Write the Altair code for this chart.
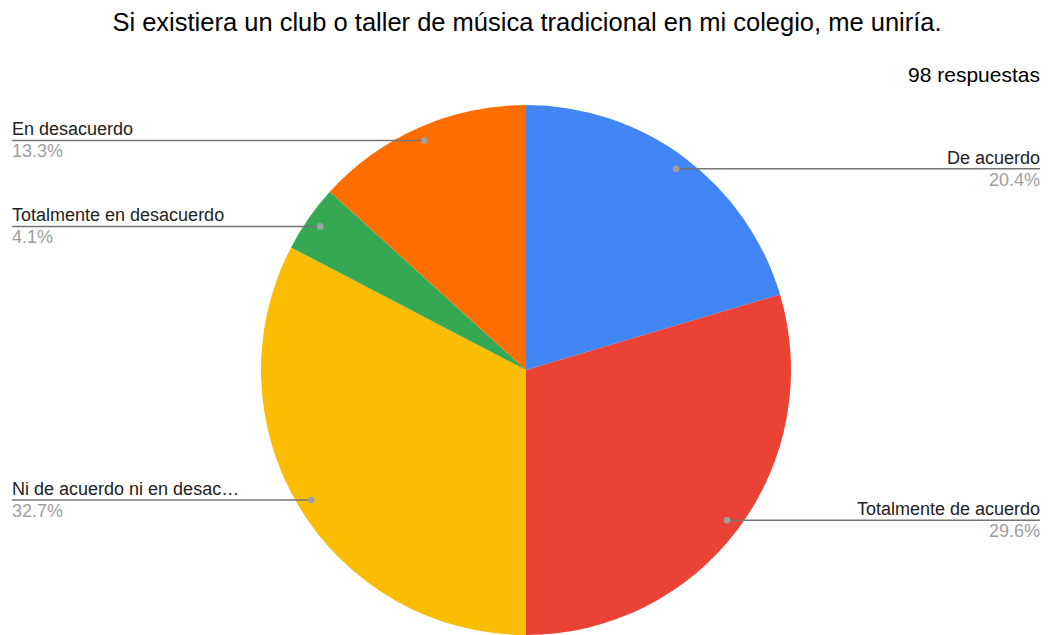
import altair as alt
import pandas as pd

title_text = "Si existiera un club o taller de música tradicional en mi colegio, me uniría."
subtitle_text = "98 respuestas"
categories = ["De acuerdo", "Totalmente de acuerdo", "Ni de acuerdo ni en desacuerdo",
              "Totalmente en desacuerdo", "En desacuerdo"]
counts = [20, 29, 32, 4, 13]
percent_labels = ["20.4%", "29.6%", "32.7%", "4.1%", "13.3%"]
colors = ["#4285F4", "#EA4335", "#FBBC04", "#34A853", "#FF6D01"]

df = pd.DataFrame({"cat": categories, "n": counts, "pct": percent_labels,
                   "idx": list(range(len(categories)))})

W, H = 1032, 627
CX, CY, R, RL = 518, 362, 265, 251
LEFT, RIGHT = 4, 1032
FONT = "Liberation Sans"
FS = 18

base = alt.Chart(df)

pie = base.mark_arc(radius=R).encode(
    theta=alt.Theta("n:Q", stack=True),
    color=alt.Color("cat:N", scale=alt.Scale(domain=categories, range=colors), legend=None),
    order=alt.Order("idx:Q"),
    x=alt.value(CX),
    y=alt.value(CY),
)

lab = (
    base.transform_window(cum="sum(n)", sort=[alt.SortField("idx")], frame=[None, 0])
    .transform_joinaggregate(total="sum(n)")
    .transform_calculate(mid="2*PI*(datum.cum - datum.n/2)/datum.total")
    .transform_calculate(
        px=f"{CX}+{RL}*sin(datum.mid)",
        py=f"{CY}-{RL}*cos(datum.mid)",
        right="datum.mid < PI ? 1 : 0",
    )
    .transform_calculate(ex=f"datum.right == 1 ? {RIGHT} : {LEFT}")
)

X = alt.X("px:Q", scale=None)
Y = alt.Y("py:Q", scale=None)

lines = lab.mark_rule(color="#757575", strokeWidth=1.5).encode(x=X, x2=alt.X2("ex:Q"), y=Y)
dots = lab.mark_circle(color="#a0a0a0", size=45, opacity=1).encode(x=X, y=Y)

EX = alt.X("ex:Q", scale=None)
right_side = lab.transform_filter("datum.right == 1")
left_side = lab.transform_filter("datum.right == 0")

name_r = right_side.mark_text(align="right", baseline="alphabetic", dy=-5, font=FONT,
                              fontSize=FS, color="#222222", limit=232).encode(x=EX, y=Y, text="cat:N")
pct_r = right_side.mark_text(align="right", baseline="alphabetic", dy=17, font=FONT,
                             fontSize=FS, color="#a0a0a0").encode(x=EX, y=Y, text="pct:N")
name_l = left_side.mark_text(align="left", baseline="alphabetic", dy=-5, font=FONT,
                             fontSize=FS, color="#222222", limit=232).encode(x=EX, y=Y, text="cat:N")
pct_l = left_side.mark_text(align="left", baseline="alphabetic", dy=17, font=FONT,
                            fontSize=FS, color="#a0a0a0").encode(x=EX, y=Y, text="pct:N")

title = alt.Chart(pd.DataFrame({"t": [title_text]})).mark_text(
    align="center", baseline="alphabetic", font=FONT, fontSize=25.5, color="#000000"
).encode(text="t:N", x=alt.value(519), y=alt.value(23))

subtitle = alt.Chart(pd.DataFrame({"t": [subtitle_text]})).mark_text(
    align="right", baseline="alphabetic", font=FONT, fontSize=21, color="#000000"
).encode(text="t:N", x=alt.value(RIGHT), y=alt.value(74))

chart = alt.layer(pie, lines, dots, name_r, pct_r, name_l, pct_l, title, subtitle).properties(
    width=W, height=H, padding=0, background="white",
    autosize=alt.AutoSizeParams(type="none")
).configure_view(stroke=None)

chart.save("out.html", embed_options={"renderer": "svg", "actions": False})
